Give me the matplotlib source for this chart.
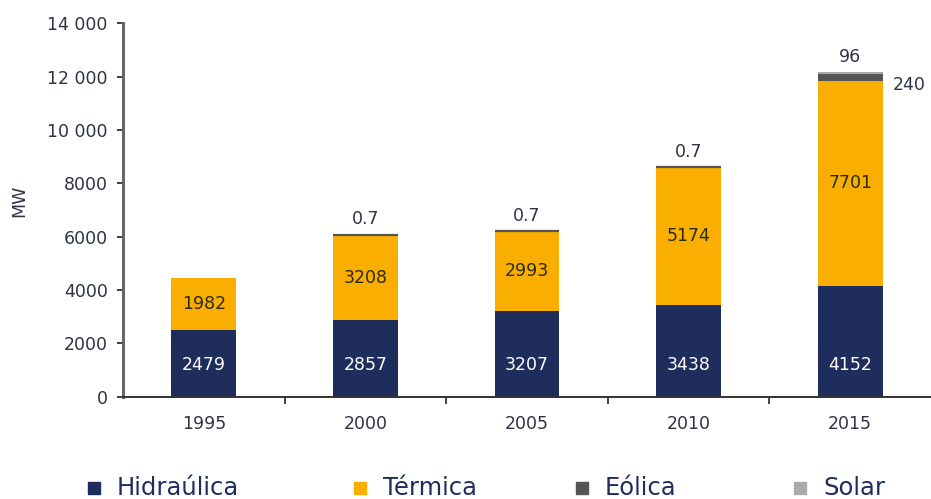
import matplotlib
matplotlib.use("Agg")
import matplotlib.pyplot as plt
from matplotlib.patches import Rectangle
from matplotlib.ticker import FuncFormatter
import numpy as np

plt.rcParams['font.family'] = ['DejaVu Sans']

years = ['1995', '2000', '2005', '2010', '2015']
hidraulica = [2479, 2857, 3207, 3438, 4152]
termica = [1982, 3208, 2993, 5174, 7701]
eolica = [0, 0.7, 0.7, 0.7, 240]
solar = [0, 0, 0, 0, 96]
series_names = ['Hidraúlica', 'Térmica', 'Eólica', 'Solar']
colors = ['#1F2D5C', '#F9AE00', '#555555', '#AAAAAA']
yticks = [0, 2000, 4000, 6000, 8000, 10000, 12000, 14000]

fig = plt.figure(figsize=(9.31, 4.99), dpi=100)
ax = fig.add_axes([123/931, 102.5/499, 808/931, 373/499])

x = np.arange(len(years))
w = 0.40
h = np.array(hidraulica, float)
t = np.array(termica, float)
e = np.array(eolica, float)
s = np.array(solar, float)

ax.bar(x, h, w, color=colors[0], zorder=2)
ax.bar(x, t, w, bottom=h, color=colors[1], zorder=2)
for i in range(len(years)):
    if e[i] > 0:
        lw = 1.6 if e[i] < 10 else 0
        ax.bar(x[i], e[i], w, bottom=h[i] + t[i], color=colors[2],
               edgecolor=colors[2], linewidth=lw, zorder=3)
    if s[i] > 0:
        ax.bar(x[i], s[i], w, bottom=h[i] + t[i] + e[i], color=colors[3], zorder=3)

lab_fs = 12.5
txt_col = '#2E3345'
for i in range(len(years)):
    ax.text(x[i], 1200, f"{hidraulica[i]}", ha='center', va='center',
            color='white', fontsize=lab_fs, zorder=4)
    ax.text(x[i], h[i] + t[i] / 2, f"{termica[i]}", ha='center', va='center',
            color='#2A2A12', fontsize=lab_fs, zorder=4)
    top = h[i] + t[i] + e[i] + s[i]
    if 0 < e[i] < 10:
        ax.text(x[i], top + 580, f"{eolica[i]}", ha='center', va='center',
                color=txt_col, fontsize=lab_fs)
    elif e[i] >= 10:
        ax.text(x[i], top + 570, f"{solar[i]:g}", ha='center', va='center',
                color=txt_col, fontsize=lab_fs)
        ax.text(x[i] + w / 2 + 0.062, 11710, f"{eolica[i]:g}",
                ha='left', va='center', color=txt_col, fontsize=lab_fs)

ax.set_xlim(-0.5, 4.5)
ax.set_ylim(0, 14000)
ax.set_yticks(yticks)

def fmt(v, pos):
    v = int(v)
    if v >= 10000:
        return f"{v // 1000} {v % 1000:03d}"
    return f"{v}"
ax.yaxis.set_major_formatter(FuncFormatter(fmt))

ax.set_xticks(x)
ax.set_xticklabels(years)
ax.set_xticks(np.arange(-0.5, 4.6, 1.0)[1:-1], minor=True)
ax.tick_params(axis='x', which='major', length=0, pad=13, labelsize=12.5, colors=txt_col)
ax.tick_params(axis='x', which='minor', length=5, width=1.3, direction='out', color='#333333')
ax.tick_params(axis='y', length=4, width=1.3, direction='out', pad=7, labelsize=12.5,
               colors=txt_col)
ax.tick_params(axis='y', color='#333333')

for sp in ['top', 'right']:
    ax.spines[sp].set_visible(False)
ax.spines['left'].set_color('#666666')
ax.spines['left'].set_linewidth(2.2)
ax.spines['bottom'].set_color('#333333')
ax.spines['bottom'].set_linewidth(1.4)

fig.text(19/931, 1 - 201/499, 'MW', rotation=90, ha='center', va='center',
         fontsize=12.5, color=txt_col)

# legend
leg_x = [94, 360, 582, 800]
leg_y = 488
for i, name in enumerate(series_names):
    sq = 12
    fig.patches.append(Rectangle(((leg_x[i] - sq / 2) / 931, (499 - leg_y - sq / 2) / 499),
                                 sq / 931, sq / 499, transform=fig.transFigure,
                                 color=colors[i], figure=fig))
    fig.text((leg_x[i] + 23) / 931, (499 - leg_y) / 499, name, ha='left', va='center',
             fontsize=17.5, color='#1F2D5C')

fig.savefig('out.png', dpi=100)
